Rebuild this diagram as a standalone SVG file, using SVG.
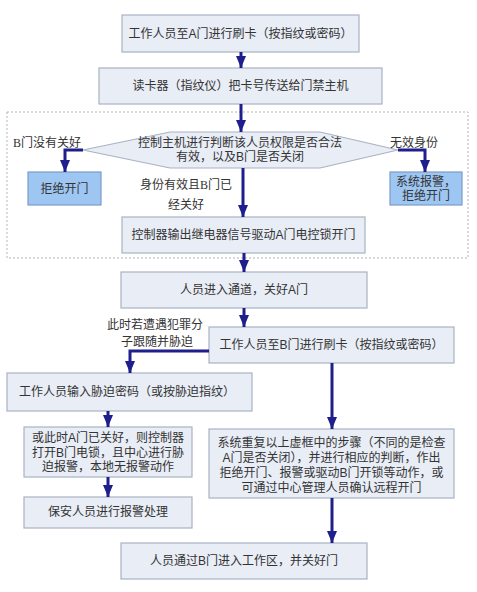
<svg xmlns="http://www.w3.org/2000/svg" width="477" height="592" viewBox="0 0 477 592">
<defs>
<style>
.box{fill:#e8edf6;stroke:#a9b2c3;stroke-width:1.2}
.blue{fill:#9ec6f2;stroke:#7c9cc8;stroke-width:1.2}
.t{font-family:"Liberation Sans","Noto Sans CJK SC",sans-serif;font-size:12px;fill:#333;text-anchor:middle}
.lbl{font-family:"Liberation Serif","Noto Sans CJK SC",serif;font-size:12px;fill:#333}
.c{fill:none;stroke:#1e1e8c;stroke-width:3;marker-end:url(#ah)}
.frame{fill:none;stroke:#b5b5b5;stroke-width:1;stroke-dasharray:2 2}
</style>
<marker id="ah" viewBox="0 0 12 10" refX="12" refY="5" markerWidth="12" markerHeight="10" markerUnits="userSpaceOnUse" orient="auto">
<path d="M0,0 L12,5 L0,10 z" fill="#1e1e8c"/>
</marker>
</defs>
<rect width="477" height="592" fill="#fff"/>
<rect class="frame" x="7" y="112" width="461" height="146"/>

<g id="n1"><rect class="box" x="122" y="15" width="237" height="37"/><text class="t" x="240.5" y="38">工作人员至A门进行刷卡（按指纹或密码）</text></g>
<g id="n2"><rect class="box" x="99" y="68" width="283" height="36"/><text class="t" x="240.5" y="90">读卡器（指纹仪）把卡号传送给门禁主机</text></g>
<g id="n3"><polygon class="box" points="83,150 170,132 320,132 398,150 320,168 170,168"/><text class="t" x="240" y="147">控制主机进行判断该人员权限是否合法</text><text class="t" x="240" y="161">有效，以及B门是否关闭</text></g>
<g id="n4"><rect class="blue" x="28" y="172" width="73" height="33"/><text class="t" x="64.5" y="193">拒绝开门</text></g>
<g id="n5"><rect class="blue" x="390" y="172" width="72" height="33"/><text class="t" x="426" y="186">系统报警，</text><text class="t" x="426" y="200">拒绝开门</text></g>
<g id="n6"><rect class="box" x="122" y="217" width="243" height="36"/><text class="t" x="243.5" y="239">控制器输出继电器信号驱动A门电控锁开门</text></g>
<g id="n7"><rect class="box" x="121" y="272" width="246" height="36"/><text class="t" x="244" y="294">人员进入通道，关好A门</text></g>
<g id="n8"><rect class="box" x="209" y="327" width="245" height="36"/><text class="t" x="331.5" y="349">工作人员至B门进行刷卡（按指纹或密码）</text></g>
<g id="n9"><rect class="box" x="7" y="373" width="245" height="38"/><text class="t" x="127" y="396">工作人员输入胁迫密码（或按胁迫指纹）</text></g>
<g id="n10"><rect class="box" x="24" y="427" width="168" height="50"/><text class="t" x="108" y="442">或此时A门已关好，则控制器</text><text class="t" x="108" y="457">打开B门电锁，且中心进行胁</text><text class="t" x="108" y="471">迫报警，本地无报警动作</text></g>
<g id="n11"><rect class="box" x="24" y="497" width="168" height="31"/><text class="t" x="108" y="516">保安人员进行报警处理</text></g>
<g id="n12"><rect class="box" x="209" y="429" width="245" height="69"/><text class="t" x="331.5" y="447">系统重复以上虚框中的步骤（不同的是检查</text><text class="t" x="331.5" y="462">A门是否关闭），并进行相应的判断，作出</text><text class="t" x="331.5" y="477">拒绝开门、报警或驱动B门开锁等动作，或</text><text class="t" x="331.5" y="492">可通过中心管理人员确认远程开门</text></g>
<g id="n13"><rect class="box" x="121" y="543" width="246" height="36"/><text class="t" x="244" y="565">人员通过B门进入工作区，并关好门</text></g>

<g id="labels">
<text class="lbl" x="13" y="147">B门没有关好</text>
<text class="lbl" x="390" y="147">无效身份</text>
<text class="lbl" x="186" y="189" text-anchor="middle">身份有效且B门已</text>
<text class="lbl" x="186" y="209" text-anchor="middle">经关好</text>
<text class="lbl" x="155" y="329" text-anchor="middle">此时若遭遇犯罪分</text>
<text class="lbl" x="157" y="346" text-anchor="middle">子跟随并胁迫</text>
</g>

<g id="connectors">
<path class="c" d="M241,52 V68"/>
<path class="c" d="M241,104 V132"/>
<path class="c" d="M83,150 H65 V172"/>
<path class="c" d="M398,150 H425 V172"/>
<path class="c" d="M243,168 V217"/>
<path class="c" d="M244,253 V272"/>
<path class="c" d="M244,308 V327"/>
<path class="c" d="M209,351 H130 V373"/>
<path class="c" d="M108,411 V427"/>
<path class="c" d="M108,477 V497"/>
<path class="c" d="M332,363 V429"/>
<path class="c" d="M332,498 V543"/>
</g>
</svg>
